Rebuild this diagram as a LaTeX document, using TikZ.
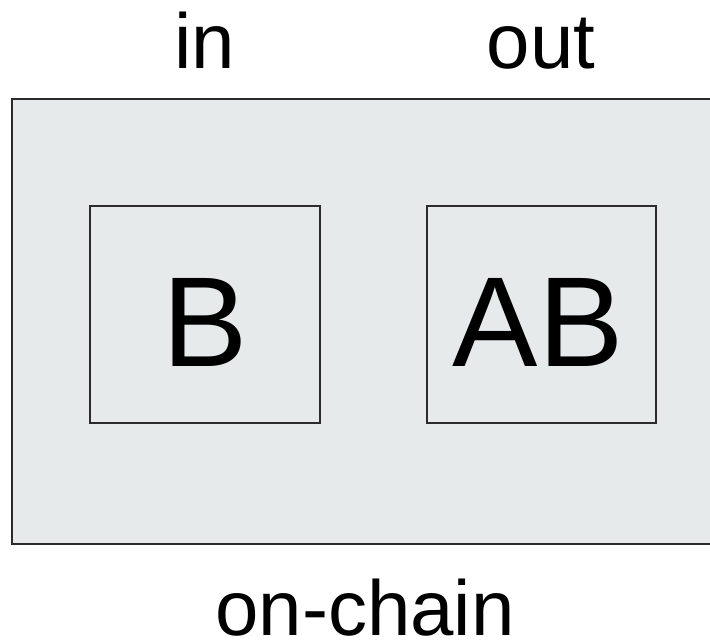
\documentclass[tikz,border=0pt]{standalone}
\usepackage{fontspec}
\setmainfont{Liberation Sans}
\definecolor{panel}{HTML}{E6EAEA}
\definecolor{edge}{HTML}{2B2B2B}
\begin{document}
\begin{tikzpicture}[x=1pt,y=-1pt,
  outerbox/.style={draw=edge,line width=2pt,fill=panel},
  innerbox/.style={draw=edge,line width=1.4pt,fill=panel},
  lbl/.style={inner sep=0pt,anchor=base,font=\fontsize{78}{78}\selectfont},
  biglbl/.style={inner sep=0pt,anchor=base,font=\fontsize{128}{128}\selectfont}]
\useasboundingbox (0,0) rectangle (710,643);
\path[outerbox] (12,99) rectangle (720,544);
\path[innerbox] (90,206) rectangle (320,423);
\path[innerbox] (427,206) rectangle (656,423);
\node[lbl] (in) at (205,68) {in};
\node[lbl] (out) at (541,68) {out};
\node[lbl] (chain) at (365,635) {\raisebox{0pt}[\height][0pt]{on-chain}};
\node[biglbl] (b) at (205.5,366) {B};
\node[biglbl] (ab) at (538,366) {AB};
\end{tikzpicture}
\end{document}
